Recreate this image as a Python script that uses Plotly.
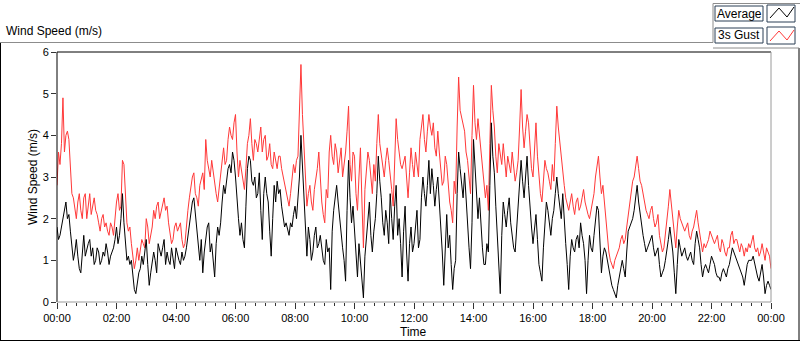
import plotly.graph_objects as go

# Readings every 3 minutes, split into two lists:
#   *_on  : readings at 00, 06, 12 ... minutes (241 values, 00:00 .. 24:00)
#   *_mid : readings at 03, 09, 15 ... minutes (240 values)
average_on = [
    1.8, 1.6, 1.9, 2.4, 2.1, 1.4, 1.2, 1.1, 0.7, 1.6,
    1.3, 1.5, 1.3, 1.0, 1.2, 1.0, 1.1, 1.2, 1.1, 1.3,
    1.8, 1.6, 2.6, 1.3, 1.1, 1.0, 0.3, 0.5, 0.8, 0.9,
    1.5, 0.4, 0.9, 1.0, 1.4, 1.1, 1.5, 1.2, 0.9, 1.0,
    1.3, 1.0, 1.2, 1.1, 1.6, 2.2, 2.5, 1.7, 1.0, 0.7,
    1.6, 1.9, 1.4, 0.6, 1.8, 1.9, 2.8, 3.0, 3.3, 3.6,
    3.0, 2.0, 1.9, 1.3, 3.2, 3.4, 2.8, 2.5, 3.1, 1.5,
    3.0, 2.4, 1.1, 2.8, 2.9, 2.7, 2.0, 1.9, 1.6, 1.8,
    2.3, 2.6, 4.0, 2.7, 1.1, 1.5, 1.2, 1.8, 1.4, 1.3,
    0.9, 1.2, 0.3, 2.2, 2.8, 2.0, 1.3, 0.5, 3.4, 1.9,
    1.7, 0.6, 1.0, 0.1, 1.6, 2.4, 1.2, 2.0, 3.5, 2.5,
    1.6, 1.9, 2.6, 1.5, 2.8, 2.0, 0.6, 2.3, 0.5, 1.8,
    1.4, 2.2, 1.5, 3.0, 2.3, 3.4, 3.2, 2.3, 3.0, 1.9,
    0.4, 2.1, 1.6, 0.3, 1.0, 3.6, 2.9, 3.1, 2.0, 0.8,
    3.9, 2.7, 2.5, 1.3, 0.9, 1.2, 4.3, 3.1, 1.7, 0.2,
    2.4, 1.8, 2.5, 1.6, 1.2, 2.2, 3.4, 2.5, 3.5, 2.2,
    1.4, 2.1, 0.9, 0.5, 2.0, 2.2, 1.6, 2.2, 3.0, 2.3,
    2.6, 1.4, 0.3, 1.5, 1.2, 1.6, 1.9, 1.4, 0.2, 1.6,
    1.2, 2.0, 2.2, 0.7, 1.3, 1.0, 0.5, 0.3, 0.1, 0.6,
    1.0, 0.6, 1.7, 1.9, 2.2, 2.8, 2.1, 1.6, 1.2, 1.4,
    1.6, 1.1, 1.3, 0.6, 0.8, 1.2, 1.8, 1.2, 0.2, 1.5,
    1.1, 1.3, 1.0, 1.2, 0.9, 1.7, 1.3, 0.6, 0.9, 0.7,
    1.1, 0.9, 0.6, 0.5, 0.8, 0.6, 0.9, 1.3, 1.1, 0.9,
    0.7, 0.4, 0.9, 1.0, 1.1, 0.8, 0.5, 0.9, 0.2, 0.5,
    0.3,
]
average_mid = [
    1.5, 1.8, 2.2, 2.0, 1.7, 1.0, 1.5, 0.8, 1.2, 1.1,
    1.4, 1.1, 0.9, 1.3, 0.9, 1.2, 1.4, 0.9, 1.2, 1.5,
    1.4, 2.0, 1.9, 1.0, 0.9, 0.7, 0.2, 0.7, 1.1, 1.2,
    0.9, 0.7, 1.2, 0.7, 1.2, 1.3, 0.9, 1.0, 1.3, 0.8,
    1.1, 0.9, 1.0, 1.3, 1.9, 2.4, 2.1, 1.2, 1.5, 1.2,
    1.8, 1.2, 0.9, 1.4, 1.6, 2.4, 2.6, 3.2, 3.1, 3.4,
    2.4, 1.6, 1.5, 2.3, 3.5, 2.9, 3.0, 2.6, 2.2, 2.6,
    2.6, 1.7, 2.0, 2.4, 2.6, 2.3, 1.8, 1.7, 1.9, 2.1,
    2.0, 3.0, 3.3, 1.8, 1.8, 1.0, 1.6, 1.3, 1.6, 1.0,
    1.5, 1.3, 1.7, 2.6, 2.4, 1.5, 1.0, 2.2, 2.5, 2.3,
    1.2, 1.4, 0.5, 1.1, 1.9, 1.6, 1.7, 2.6, 2.9, 1.9,
    2.2, 1.4, 2.0, 2.3, 1.6, 1.4, 1.7, 1.2, 1.4, 1.2,
    1.8, 1.3, 2.5, 2.6, 2.8, 2.6, 2.8, 2.7, 2.4, 1.2,
    1.5, 1.3, 0.9, 0.8, 2.6, 3.2, 2.5, 2.4, 1.3, 1.9,
    3.3, 2.0, 1.8, 0.9, 1.4, 2.8, 3.5, 2.3, 1.1, 1.6,
    2.1, 2.2, 1.9, 1.3, 1.8, 2.8, 2.9, 3.0, 2.8, 1.8,
    1.8, 1.5, 0.7, 1.3, 2.4, 1.8, 2.0, 2.6, 2.6, 2.0,
    1.9, 0.9, 1.1, 1.3, 1.5, 1.3, 1.6, 1.0, 1.0, 1.3,
    1.6, 2.3, 1.4, 1.1, 1.2, 0.7, 0.4, 0.2, 0.4, 0.9,
    0.8, 1.2, 1.8, 2.0, 2.5, 2.4, 1.8, 1.4, 1.3, 1.5,
    1.3, 1.2, 0.9, 0.7, 1.0, 1.5, 1.5, 0.7, 0.9, 1.3,
    1.2, 1.1, 1.1, 1.0, 1.4, 1.5, 0.9, 0.8, 0.8, 0.9,
    1.0, 0.7, 0.6, 0.7, 0.7, 0.8, 1.1, 1.2, 1.0, 0.8,
    0.6, 0.7, 1.0, 1.0, 0.9, 0.6, 0.7, 0.6, 0.4, 0.4,
]

gust_on = [
    2.8, 3.3, 4.9, 4.0, 3.9, 2.6, 2.3, 2.4, 2.2, 2.5,
    2.0, 2.6, 2.3, 2.2, 1.9, 2.0, 1.8, 1.7, 1.9, 1.6,
    2.4, 2.2, 3.4, 2.5, 1.7, 1.4, 0.8, 1.3, 1.2, 1.4,
    2.0, 1.4, 1.8, 2.0, 2.4, 2.2, 2.5, 2.3, 1.6, 1.5,
    1.9, 1.8, 1.5, 1.4, 2.2, 2.8, 3.1, 2.5, 2.8, 3.1,
    3.9, 3.2, 3.4, 2.9, 2.4, 3.0, 3.7, 3.4, 4.2, 3.9,
    4.5, 3.0, 3.2, 2.7, 3.8, 4.4, 3.4, 3.8, 4.0, 3.6,
    4.0, 3.5, 3.3, 3.6, 3.2, 3.5, 3.0, 2.6, 2.3, 2.9,
    3.1, 3.5, 5.7, 3.8, 2.3, 2.8, 2.2, 2.9, 3.6, 2.4,
    1.9, 2.5, 4.0, 3.3, 3.6, 3.4, 3.0, 3.6, 4.7, 2.9,
    3.5, 2.2, 3.7, 1.3, 3.2, 3.4, 2.6, 2.9, 4.5, 3.5,
    3.0, 3.7, 3.1, 2.3, 4.4, 3.6, 3.2, 3.5, 2.5, 3.7,
    3.0, 3.3, 3.9, 4.5, 3.6, 4.5, 4.0, 3.7, 4.1, 3.2,
    2.9, 3.3, 2.4, 1.9, 2.6, 5.4, 4.4, 4.1, 3.4, 2.6,
    5.2, 3.9, 4.0, 3.2, 2.5, 2.2, 5.2, 4.2, 3.1, 3.5,
    3.8, 3.0, 3.3, 3.6, 2.9, 3.4, 5.1, 3.7, 4.5, 3.6,
    3.0, 4.3, 2.9, 2.4, 3.4, 3.1, 2.7, 2.9, 4.7, 3.8,
    3.1, 2.5, 2.2, 2.6, 2.1, 2.5, 2.3, 2.7, 2.2, 2.0,
    2.3, 3.0, 3.5, 2.6, 2.4, 1.5, 1.0, 0.8, 1.1, 1.3,
    1.6, 1.5, 2.1, 2.7, 3.0, 3.5, 2.9, 2.6, 2.2, 2.0,
    2.3, 1.8, 2.1, 1.4, 1.3, 1.9, 2.7, 2.0, 1.3, 2.2,
    1.9, 1.7, 1.9, 1.5, 1.8, 2.2, 1.7, 1.2, 1.3, 1.5,
    1.6, 1.4, 1.6, 1.2, 1.4, 1.1, 1.3, 1.7, 1.5, 1.3,
    1.4, 1.1, 1.2, 1.3, 1.6, 1.2, 1.1, 1.4, 1.0, 1.2,
    0.8,
]
gust_mid = [
    3.6, 3.8, 3.6, 4.1, 3.2, 2.5, 2.0, 2.6, 2.0, 2.6,
    2.4, 2.1, 2.5, 2.1, 1.7, 2.1, 1.9, 1.6, 1.8, 2.1,
    2.6, 2.3, 3.3, 1.9, 1.8, 1.1, 1.0, 1.0, 1.5, 1.3,
    1.8, 1.6, 2.2, 2.3, 2.0, 2.4, 2.2, 1.9, 1.4, 1.8,
    1.7, 1.9, 1.3, 1.9, 2.5, 3.0, 2.6, 2.3, 3.0, 2.7,
    3.4, 3.0, 3.1, 2.6, 2.7, 3.4, 3.3, 3.9, 4.0, 4.3,
    3.6, 3.4, 2.9, 3.2, 4.0, 3.8, 3.9, 3.6, 4.2, 3.9,
    3.4, 3.8, 3.2, 3.4, 3.5, 3.2, 2.8, 2.4, 2.6, 3.3,
    3.4, 4.6, 4.5, 3.0, 2.6, 2.4, 2.7, 3.2, 2.8, 2.1,
    2.7, 3.6, 3.5, 3.8, 3.1, 3.7, 3.3, 4.1, 3.3, 3.6,
    2.6, 3.0, 2.4, 2.7, 3.6, 3.0, 3.3, 3.8, 3.8, 3.2,
    3.4, 3.4, 2.7, 3.6, 3.9, 3.3, 3.4, 3.0, 3.1, 3.3,
    3.6, 3.0, 4.2, 3.9, 4.1, 4.2, 4.3, 3.5, 3.6, 2.8,
    3.5, 2.8, 2.2, 2.9, 4.2, 4.6, 4.3, 3.6, 3.0, 4.0,
    4.3, 4.4, 3.5, 2.9, 2.8, 3.8, 4.6, 3.5, 3.8, 3.3,
    3.4, 3.5, 3.1, 3.2, 3.1, 4.2, 4.2, 4.1, 4.3, 3.2,
    3.6, 3.5, 2.6, 3.0, 3.2, 2.9, 3.3, 3.8, 4.2, 3.4,
    2.8, 2.3, 2.4, 2.3, 2.4, 2.2, 2.5, 2.4, 2.1, 2.2,
    2.6, 3.3, 3.0, 2.8, 1.9, 1.2, 0.9, 1.0, 1.2, 1.5,
    1.4, 1.8, 2.4, 2.9, 3.3, 3.2, 2.8, 2.4, 2.1, 2.2,
    2.0, 1.9, 1.6, 1.2, 1.6, 2.3, 2.3, 1.6, 1.8, 2.0,
    1.8, 1.8, 1.6, 1.7, 2.0, 1.9, 1.4, 1.4, 1.4, 1.7,
    1.5, 1.5, 1.3, 1.5, 1.2, 1.3, 1.6, 1.4, 1.5, 1.2,
    1.3, 1.3, 1.4, 1.5, 1.3, 1.3, 1.2, 1.2, 1.3, 1.1,
]

tick_hours = [0, 2, 4, 6, 8, 10, 12, 14, 16, 18, 20, 22, 24]
tick_labels = ["00:00", "02:00", "04:00", "06:00", "08:00", "10:00", "12:00",
               "14:00", "16:00", "18:00", "20:00", "22:00", "00:00"]
y_ticks = [0, 1, 2, 3, 4, 5, 6]


def interleave(on, mid):
    out = []
    for k, v in enumerate(on):
        out.append(v)
        if k < len(mid):
            out.append(mid[k])
    return out


average = interleave(average_on, average_mid)
gust = interleave(gust_on, gust_mid)
hours = [k * 3 / 60 for k in range(len(average))]

FONT = "Liberation Sans"
W, H = 800, 342
L, R, T, B = 57, 29, 52, 40
PW, PH = W - L - R, H - T - B
RED = "#ff3838"


def px(x):
    return (x - L) / PW


def py(y):
    return (H - B - y) / PH


fig = go.Figure()
fig.add_trace(go.Scatter(x=hours, y=gust, mode="lines", name="3s Gust",
                         line=dict(color=RED, width=1)))
fig.add_trace(go.Scatter(x=hours, y=average, mode="lines", name="Average",
                         line=dict(color="#000000", width=1)))

shapes = []


def line(x0, y0, x1, y1, color, width=1):
    shapes.append(dict(type="line", xref="paper", yref="paper",
                       x0=px(x0), y0=py(y0), x1=px(x1), y1=py(y1),
                       line=dict(color=color, width=width)))


def rect(x0, y0, x1, y1, color):
    shapes.append(dict(type="rect", xref="paper", yref="paper",
                       x0=px(x0), y0=py(y0), x1=px(x1), y1=py(y1),
                       line=dict(color=color, width=1), fillcolor="white"))


# outer frame
line(0.5, 42, 0.5, 341, "#000000")
line(0, 340.5, 800, 340.5, "#000000")
line(799, 48, 799, 341, "#000000")
line(0, 42.5, 713, 42.5, "#8c8c8c")
# legend container
line(713, 3.5, 713, 42.5, "#8c8c8c")
line(713, 3.5, 800, 3.5, "#8c8c8c")
line(713, 48, 799, 48, "#8c8c8c")
# plot frame
line(57, 52, 771, 52, "#000000")
line(57, 52, 57, 302, "#000000")
line(771, 52, 771, 302, "#9a9a9a")
line(57, 302, 771, 302, "#9a9a9a")

# legend boxes
rect(715, 6, 763, 21, "#2b3f55")
rect(767, 5, 795, 22, "#2b3f55")
rect(715, 28, 763, 43, "#2b3f55")
rect(767, 27, 795, 44, "#2b3f55")
shapes.append(dict(type="path", xref="paper", yref="paper",
                   path="M {} {} L {} {} L {} {} L {} {}".format(
                       px(770), py(18), px(779), py(8), px(787), py(17), px(794), py(7)),
                   line=dict(color="#000000", width=1)))
shapes.append(dict(type="path", xref="paper", yref="paper",
                   path="M {} {} L {} {} L {} {} L {} {}".format(
                       px(770), py(41), px(779), py(31), px(787), py(40), px(794), py(30)),
                   line=dict(color=RED, width=1)))

annotations = [
    dict(text="Wind Speed (m/s)", xref="paper", yref="paper", x=px(4), y=py(31),
         xanchor="left", yanchor="middle", showarrow=False,
         font=dict(family=FONT, size=12, color="#000000")),
    dict(text="Average", xref="paper", yref="paper", x=px(739), y=py(13.5),
         xanchor="center", yanchor="middle", showarrow=False,
         font=dict(family=FONT, size=12, color="#000000")),
    dict(text="3s Gust", xref="paper", yref="paper", x=px(739), y=py(35.5),
         xanchor="center", yanchor="middle", showarrow=False,
         font=dict(family=FONT, size=12, color="#000000")),
    dict(text="Wind Speed (m/s)", xref="paper", yref="paper", x=px(33), y=py(177),
         xanchor="center", yanchor="middle", showarrow=False, textangle=-90,
         font=dict(family=FONT, size=12, color="#000000")),
    dict(text="Time", xref="paper", yref="paper", x=px(413), y=py(332),
         xanchor="center", yanchor="middle", showarrow=False,
         font=dict(family=FONT, size=12, color="#000000")),
]

fig.update_layout(
    width=W, height=H,
    margin=dict(l=L, r=R, t=T, b=B, pad=0),
    paper_bgcolor="white", plot_bgcolor="white",
    showlegend=False,
    shapes=shapes,
    annotations=annotations,
    xaxis=dict(range=[0, 24], tickmode="array", tickvals=tick_hours, ticktext=tick_labels,
               ticks="outside", ticklen=6, tickcolor="#333333", showgrid=False,
               zeroline=False, showline=False,
               tickfont=dict(family=FONT, size=11, color="#000000"),
               minor=dict(dtick=1 / 3, ticks="outside", ticklen=3, tickcolor="#333333",
                          showgrid=False)),
    yaxis=dict(range=[0, 6], tickmode="array", tickvals=y_ticks,
               ticks="outside", ticklen=5, tickcolor="#333333", showgrid=False,
               zeroline=False, showline=False,
               tickfont=dict(family=FONT, size=11, color="#000000")),
)

fig.write_html("out.html", config={"displayModeBar": False},
               post_script="document.body.style.margin='0';document.body.style.overflow='hidden';")
